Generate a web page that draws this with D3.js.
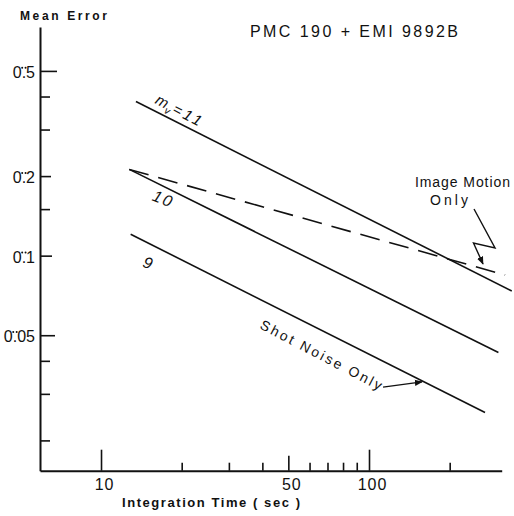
<!DOCTYPE html>
<html>
<head>
<meta charset="utf-8">
<script src="https://cdn.jsdelivr.net/npm/d3@7"></script>
<style>
  body { margin: 0; background: #fff; }
  svg { display: block; }
  text { font-family: "Liberation Sans", Arial, sans-serif; fill: #111; }
</style>
</head>
<body>
<svg id="chart"></svg>
<script>
// integration time (sec), mean error (arcsec) -- end points of each straight line
var mag11 = [[13.5, 0.383], [341, 0.0735]];
var mag10 = [[12.75, 0.212], [304, 0.0430]];
var mag9 = [[12.9, 0.1205], [271, 0.0255]];
var imageMotion = [[12.75, 0.212], [322, 0.0845]];

var yMajor = [0.5, 0.2, 0.1, 0.05];
var yMinor = [0.4, 0.3, 0.15, 0.04, 0.03, 0.02];
var xMajor = [10, 50, 100];
var xMinor = [20, 30, 40, 60, 70, 80, 90, 200];

var width = 514, height = 516;

var svg = d3.select('#chart')
            .attr('width', width)
            .attr('height', height);

var x = d3.scaleLog().domain([5.92, 312.7]).range([40, 501.7]);
var y = d3.scaleLog().domain([0.01536, 0.733]).range([470.7, 27]);

var defs = svg.append('defs');
defs.append('marker')
    .attr('id', 'head')
    .attr('viewBox', '0 0 10 10')
    .attr('refX', 9).attr('refY', 5)
    .attr('markerWidth', 8).attr('markerHeight', 8)
    .attr('markerUnits', 'userSpaceOnUse')
    .attr('orient', 'auto')
  .append('path')
    .attr('d', 'M0,1 L10,5 L0,9 Z')
    .style('fill', '#111');

// y axis, ticks pointing inward
var yAxisG = svg.append('g')
    .attr('transform', 'translate(40,0)')
    .call(d3.axisLeft(y).tickValues(yMajor).tickSizeInner(-14).tickSizeOuter(0)
            .tickPadding(5).tickFormat(function(d){ return String(d).replace(/^0?\./, '0.'); }));

var yTickLen = {0.5: 17, 0.2: 11, 0.1: 12, 0.05: 15};
yAxisG.selectAll('.tick line').attr('x2', function(d){ return yTickLen[d]; });

svg.append('g')
    .attr('transform', 'translate(40,0)')
    .call(d3.axisLeft(y).tickValues(yMinor).tickSizeInner(-10).tickSizeOuter(0).tickFormat(''))
    .select('.domain').remove();

// x axis
var xAxisG = svg.append('g')
    .attr('transform', 'translate(0,470.7)')
    .call(d3.axisBottom(x).tickValues(xMajor).tickSizeInner(-21).tickSizeOuter(0)
            .tickPadding(8).tickFormat(d3.format('d')));

xAxisG.selectAll('.tick line').attr('y2', function(d){ return d === 50 ? -15 : -21; });

svg.append('g')
    .attr('transform', 'translate(0,470.7)')
    .call(d3.axisBottom(x).tickValues(xMinor).tickSizeInner(-8).tickSizeOuter(0).tickFormat(''))
    .select('.domain').remove();

svg.selectAll('.domain').style('stroke', '#111').style('stroke-width', 2);
svg.selectAll('.tick line').style('stroke', '#111').style('stroke-width', 1.6);

yAxisG.selectAll('.tick text')
      .style('font-size', '16px')
      .style('fill', '#111')
      .attr('dy', '0.4em');

xAxisG.selectAll('.tick text')
      .style('font-size', '16px')
      .style('letter-spacing', '1px')
      .style('fill', '#111')
      .attr('dx', 3);

// arc-second mark (two dots) over the decimal point
yAxisG.selectAll('.tick').each(function(){
    var t = d3.select(this).select('text').node();
    var box = t.getExtentOfChar(1);
    var cx = box.x + box.width / 2;
    var cy = box.y + 4;
    d3.select(this).selectAll('circle.sec')
      .data([-1.7, 1.7])
      .enter().append('circle')
      .attr('class', 'sec')
      .attr('cx', function(d){ return cx + d; })
      .attr('cy', cy)
      .attr('r', 1)
      .style('fill', '#111');
});

// curves
var line = d3.line()
             .x(function(d){ return x(d[0]); })
             .y(function(d){ return y(d[1]); });

[mag11, mag10, mag9].forEach(function(s){
    svg.append('path')
       .datum(s)
       .attr('d', line)
       .style('fill', 'none')
       .style('stroke', '#111')
       .style('stroke-width', 1.6);
});

svg.append('path')
   .datum(imageMotion)
   .attr('d', line)
   .style('fill', 'none')
   .style('stroke', '#111')
   .style('stroke-width', 1.6)
   .style('stroke-dasharray', '20,10');

// labels on the curves
function rotLabel(t, v, angle){
    var px = x(t), py = y(v);
    return svg.append('text')
              .attr('x', px).attr('y', py)
              .attr('transform', 'rotate(' + angle + ',' + px + ',' + py + ')');
}

var m11 = rotLabel(15.8, 0.378, 28).style('font-size', '15px').style('font-style', 'italic');
m11.append('tspan').text('m');
m11.append('tspan').attr('dy', 4).style('font-size', '10px').text('v');
m11.append('tspan').attr('dy', -4).attr('dx', 2).style('letter-spacing', '3px').text('=11');

rotLabel(15.4, 0.1624, 22).style('font-size', '16px').style('font-style', 'italic')
    .style('letter-spacing', '2px').text('10');
rotLabel(14.2, 0.091, 20).style('font-size', '16px').style('font-style', 'italic').text('9');

rotLabel(38.9, 0.0532, 27.5).style('font-size', '14px')
    .attr('textLength', 135).attr('lengthAdjust', 'spacing')
    .text('Shot Noise Only');

svg.append('path')
   .datum([[112.8, 0.0318], [157.7, 0.0333]])
   .attr('d', line)
   .style('fill', 'none')
   .style('stroke', '#111')
   .style('stroke-width', 1.4)
   .attr('marker-end', 'url(#head)');

svg.append('text')
   .attr('x', x(148.4)).attr('y', y(0.182))
   .attr('textLength', 95).attr('lengthAdjust', 'spacing')
   .style('font-size', '14px')
   .text('Image Motion');
svg.append('text')
   .attr('x', x(168.9)).attr('y', y(0.1555))
   .attr('textLength', 38).attr('lengthAdjust', 'spacing')
   .style('font-size', '14px')
   .text('Only');

svg.append('path')
   .datum([[246.5, 0.1502], [295.3, 0.1069], [245.4, 0.1117], [266.3, 0.093]])
   .attr('d', line)
   .style('fill', 'none')
   .style('stroke', '#111')
   .style('stroke-width', 1.4)
   .attr('marker-end', 'url(#head)');

// titles
svg.append('text')
   .attr('x', 250).attr('y', 36.7)
   .attr('textLength', 208).attr('lengthAdjust', 'spacing')
   .style('font-size', '16px')
   .text('PMC 190 + EMI 9892B');

svg.append('text')
   .attr('x', 20).attr('y', 20)
   .attr('textLength', 87).attr('lengthAdjust', 'spacing')
   .style('font-size', '12px')
   .style('font-weight', 'bold')
   .text('Mean Error');

svg.append('text')
   .attr('x', 122).attr('y', 507)
   .attr('textLength', 178).attr('lengthAdjust', 'spacing')
   .style('font-size', '13px')
   .style('font-weight', 'bold')
   .text('Integration Time ( sec )');
</script>
</body>
</html>
